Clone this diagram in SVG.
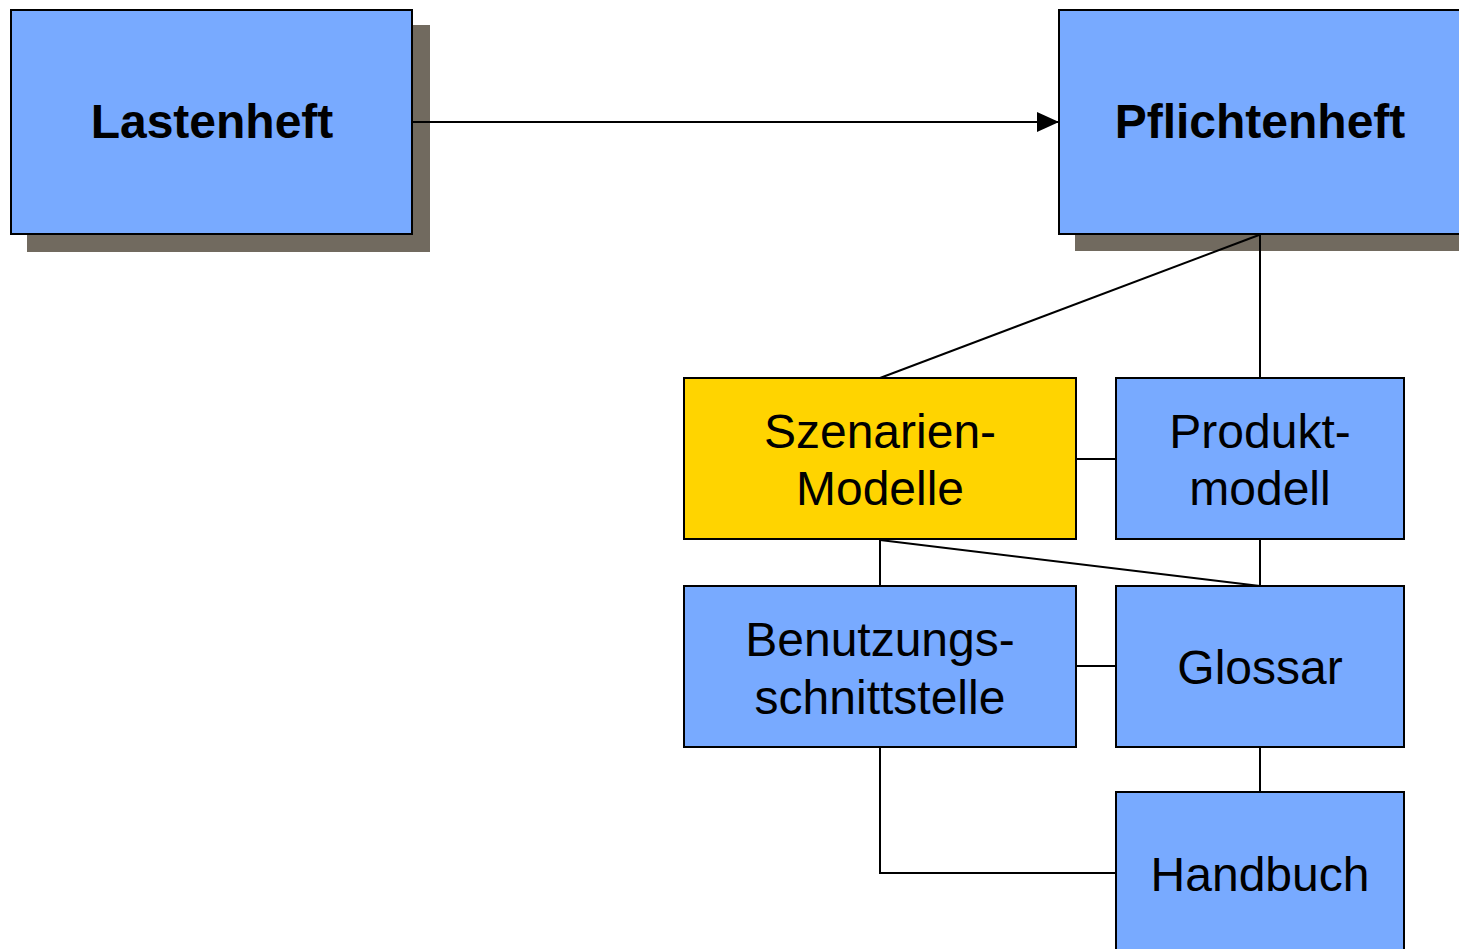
<svg xmlns="http://www.w3.org/2000/svg" width="1459" height="949" viewBox="0 0 1459 949">
  <defs>
    <style>
      .box { fill: #78aaff; stroke: #000; stroke-width: 2; }
      .gold { fill: #ffd400; }
      .shadow { fill: #716a5f; }
      .lbl { font-family: "Liberation Sans", Arial, sans-serif; font-size: 48px; fill: #000; text-anchor: middle; }
      .bold { font-weight: bold; }
      .link { fill: none; stroke: #000; stroke-width: 2; }
    </style>
    <marker id="arrow" markerWidth="22" markerHeight="20" refX="22" refY="10" orient="auto" markerUnits="userSpaceOnUse">
      <path d="M0,0 L22,10 L0,20 Z" fill="#000"/>
    </marker>
  </defs>
  <rect width="1459" height="949" fill="#fff"/>

  <g id="lastenheft">
    <rect class="shadow" x="27" y="25" width="403" height="227"/>
    <rect class="box" x="11" y="10" width="401" height="224"/>
    <text class="lbl bold" x="212" y="138">Lastenheft</text>
  </g>

  <g id="pflichtenheft">
    <rect class="shadow" x="1075" y="25" width="400" height="226"/>
    <rect class="box" x="1059" y="10" width="402" height="224"/>
    <text class="lbl bold" x="1260" y="138">Pflichtenheft</text>
  </g>

  <g id="szenarien">
    <rect class="box gold" x="684" y="378" width="392" height="161"/>
    <text class="lbl" x="880" y="448">Szenarien-</text>
    <text class="lbl" x="880" y="505">Modelle</text>
  </g>

  <g id="produktmodell">
    <rect class="box" x="1116" y="378" width="288" height="161"/>
    <text class="lbl" x="1260" y="448">Produkt-</text>
    <text class="lbl" x="1260" y="505">modell</text>
  </g>

  <g id="benutzungsschnittstelle">
    <rect class="box" x="684" y="586" width="392" height="161"/>
    <text class="lbl" x="880" y="656">Benutzungs-</text>
    <text class="lbl" x="880" y="714">schnittstelle</text>
  </g>

  <g id="glossar">
    <rect class="box" x="1116" y="586" width="288" height="161"/>
    <text class="lbl" x="1260" y="684">Glossar</text>
  </g>

  <g id="handbuch">
    <rect class="box" x="1116" y="792" width="288" height="170"/>
    <text class="lbl" x="1260" y="891">Handbuch</text>
  </g>

  <!-- connectors, drawn on top so they cross the drop shadows -->
  <g id="connectors">
    <line class="link" x1="412" y1="122" x2="1059" y2="122" marker-end="url(#arrow)"/>
    <line class="link" x1="1259" y1="235" x2="880" y2="378"/>
    <line class="link" x1="1260" y1="235" x2="1260" y2="378"/>
    <line class="link" x1="1076" y1="459" x2="1116" y2="459"/>
    <line class="link" x1="880" y1="540" x2="1260" y2="586"/>
    <line class="link" x1="880" y1="540" x2="880" y2="586"/>
    <line class="link" x1="1260" y1="540" x2="1260" y2="586"/>
    <line class="link" x1="1076" y1="666" x2="1116" y2="666"/>
    <line class="link" x1="1260" y1="748" x2="1260" y2="792"/>
    <polyline class="link" points="880,748 880,873 1116,873"/>
  </g>
</svg>
